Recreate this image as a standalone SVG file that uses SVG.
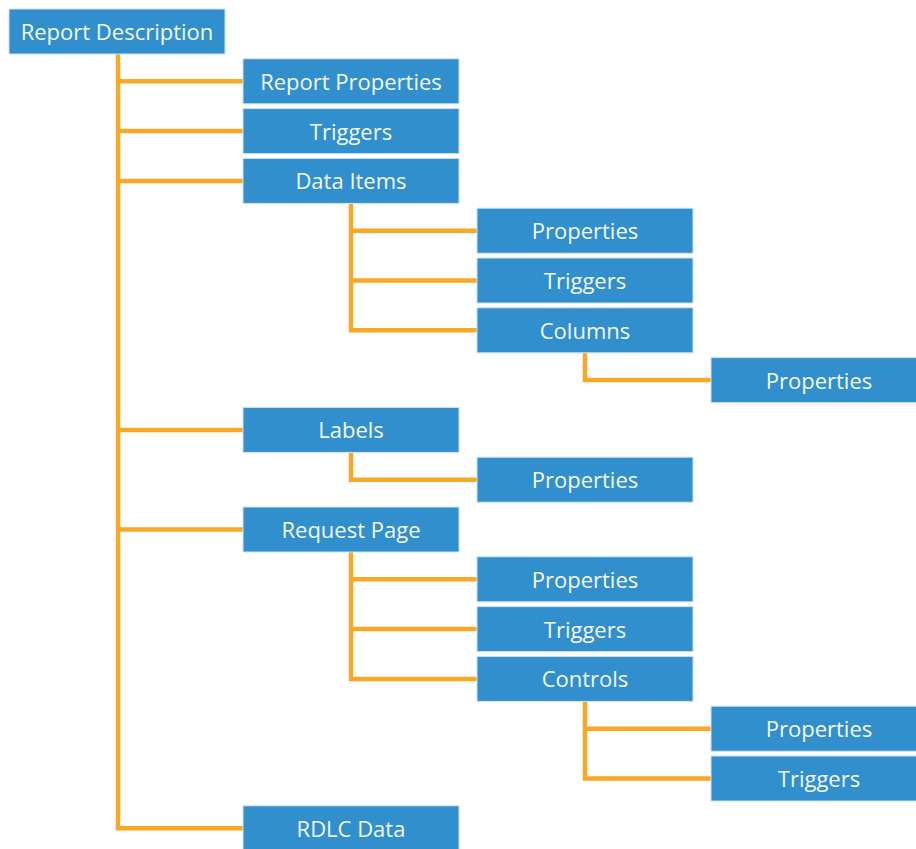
<svg xmlns="http://www.w3.org/2000/svg" width="916" height="849" viewBox="0 0 916 849">
<style>
.n rect{fill:#318fcd;stroke:#cfe2f1;stroke-width:1}
.n text{fill:#f4f8fb;font-family:"Open Sans","Noto Sans",sans-serif;font-size:22px;text-anchor:middle;dominant-baseline:central}
#connectors path{fill:none;stroke:#f9a825;stroke-width:4.5;stroke-linejoin:miter}
</style>
<rect width="916" height="849" fill="#ffffff"/>
<g id="connectors">
<path d="M118 54 V828.3 H243 M118 81.3 H243 M118 131.1 H243 M118 180.9 H243 M118 429.9 H243 M118 529.5 H243"/>
<path d="M351 203.4 V330.3 H477 M351 230.7 H477 M351 280.5 H477"/>
<path d="M585 352.8 V380.1 H711"/>
<path d="M351 452.4 V479.7 H477"/>
<path d="M351 552 V678.9 H477 M351 579.3 H477 M351 629.1 H477"/>
<path d="M585 701.4 V778.5 H711 M585 728.7 H711"/>
</g>
<g id="report-description" class="n"><rect x="9" y="9" width="216" height="45"/><text x="117" y="31">Report Description</text></g>
<g id="report-properties" class="n"><rect x="243" y="58.8" width="216" height="45"/><text x="351" y="80.8">Report Properties</text></g>
<g id="triggers" class="n"><rect x="243" y="108.6" width="216" height="45"/><text x="351" y="130.6">Triggers</text></g>
<g id="data-items" class="n"><rect x="243" y="158.4" width="216" height="45"/><text x="351" y="180.4">Data Items</text></g>
<g id="data-items-properties" class="n"><rect x="477" y="208.2" width="216" height="45"/><text x="585" y="230.2">Properties</text></g>
<g id="data-items-triggers" class="n"><rect x="477" y="258" width="216" height="45"/><text x="585" y="280">Triggers</text></g>
<g id="columns" class="n"><rect x="477" y="307.8" width="216" height="45"/><text x="585" y="329.8">Columns</text></g>
<g id="columns-properties" class="n"><rect x="711" y="357.6" width="216" height="45"/><text x="819" y="379.6">Properties</text></g>
<g id="labels" class="n"><rect x="243" y="407.4" width="216" height="45"/><text x="351" y="429.4">Labels</text></g>
<g id="labels-properties" class="n"><rect x="477" y="457.2" width="216" height="45"/><text x="585" y="479.2">Properties</text></g>
<g id="request-page" class="n"><rect x="243" y="507" width="216" height="45"/><text x="351" y="529">Request Page</text></g>
<g id="request-page-properties" class="n"><rect x="477" y="556.8" width="216" height="45"/><text x="585" y="578.8">Properties</text></g>
<g id="request-page-triggers" class="n"><rect x="477" y="606.6" width="216" height="45"/><text x="585" y="628.6">Triggers</text></g>
<g id="controls" class="n"><rect x="477" y="656.4" width="216" height="45"/><text x="585" y="678.4">Controls</text></g>
<g id="controls-properties" class="n"><rect x="711" y="706.2" width="216" height="45"/><text x="819" y="728.2">Properties</text></g>
<g id="controls-triggers" class="n"><rect x="711" y="756" width="216" height="45"/><text x="819" y="778">Triggers</text></g>
<g id="rdlc-data" class="n"><rect x="243" y="805.8" width="216" height="45"/><text x="351" y="827.8">RDLC Data</text></g>
</svg>
